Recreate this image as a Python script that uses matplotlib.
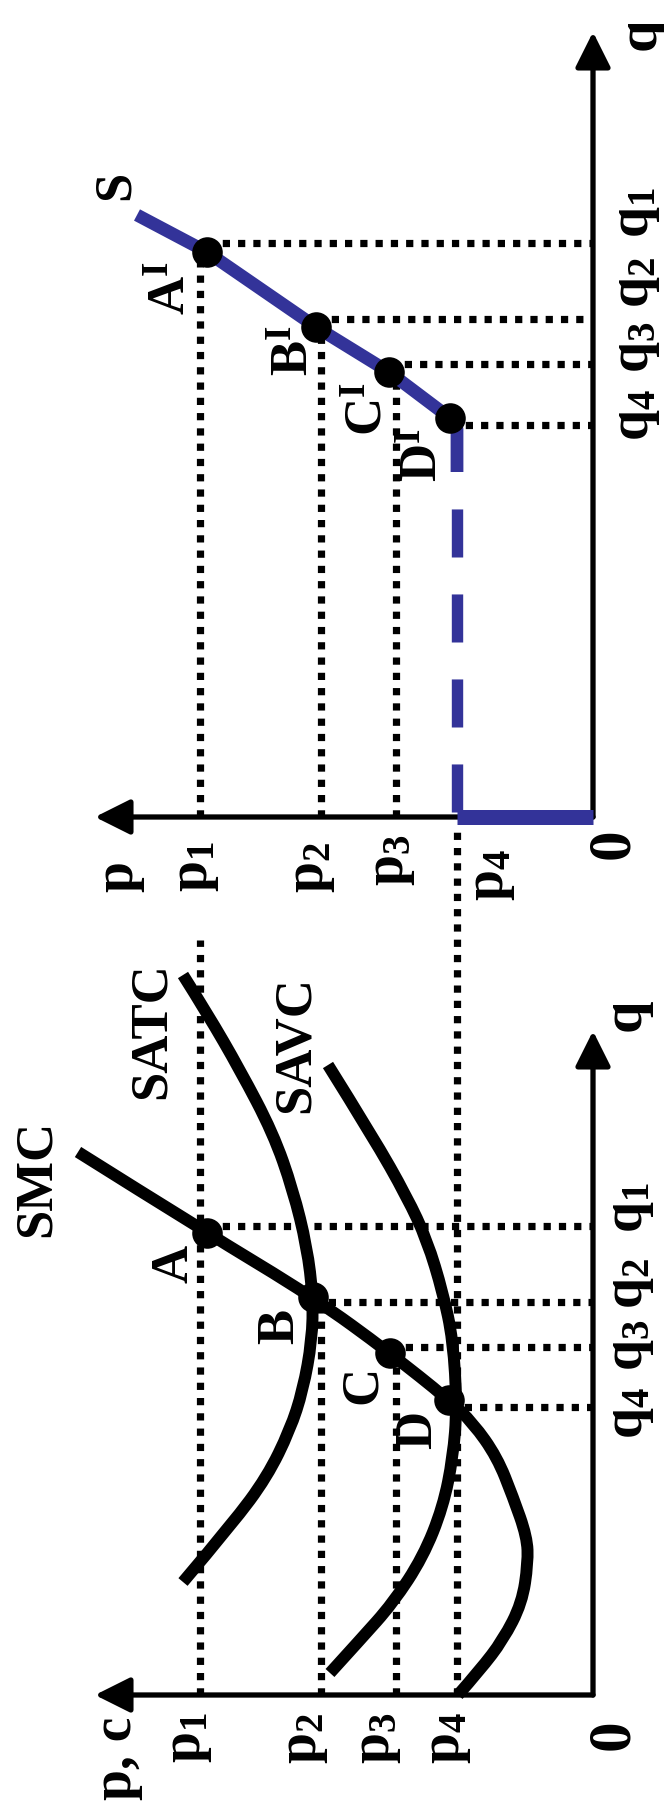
import matplotlib
matplotlib.use("Agg")
import matplotlib.pyplot as plt
from matplotlib.path import Path
from matplotlib.patches import PathPatch

plt.rcParams['font.family'] = ['Liberation Serif', 'DejaVu Serif']
plt.rcParams['font.weight'] = 'bold'
plt.rcParams['mathtext.fontset'] = 'custom'
plt.rcParams['mathtext.rm'] = 'Liberation Serif:bold'
plt.rcParams['mathtext.it'] = 'Liberation Serif:bold'
plt.rcParams['mathtext.bf'] = 'Liberation Serif:bold'
plt.rcParams['lines.scale_dashes'] = False

# price levels p1..p4 (shared by both panels)
p_levels = [39.3, 27.2, 19.7, 13.6]
# quantity levels q1..q4, cost panel and supply panel
q_cost = [46.9, 39.3, 34.8, 28.8]
q_supply = [57.4, 49.8, 45.3, 39.2]
p_axis_len = 49.8
q_axis_cost = 66.4
q_axis_supply = 78.5

# points A..D on SMC, A'..D' on S
pts_cost_p = [38.6, 28.0, 20.3, 14.4]
pts_cost_q = [46.2, 39.8, 34.2, 29.5]
pts_sup_p = [38.6, 27.7, 20.4, 14.3]
pts_sup_q = [56.5, 49.0, 44.5, 39.9]

# cost curves (p, q)
smc_p = [51.5, 38.6, 28.0, 20.3, 14.4, 12.0, 9.6, 8.0, 6.6, 6.5, 7.1, 9.0, 11.3, 13.5]
smc_q = [54.3, 46.2, 39.8, 34.2, 29.5, 27.2, 23.8, 19.8, 15.8, 13.2, 9.2, 5.5, 2.5, 0.0]
satc_p = [41.0, 38.6, 35.3, 32.0, 30.0, 28.6, 28.0, 28.1, 29.0, 30.3, 32.6, 36.0, 41.0]
satc_q = [72.0, 68.2, 62.5, 56.2, 50.5, 44.8, 39.8, 35.5, 30.5, 26.5, 21.8, 17.2, 11.3]
savc_p = [26.5, 22.0, 18.6, 16.6, 15.0, 14.0, 13.6, 14.0, 15.0, 17.0, 20.0, 23.3, 26.3]
savc_q = [63.0, 55.8, 49.8, 45.5, 40.2, 35.5, 28.8, 23.8, 18.8, 13.8, 9.2, 5.5, 2.2]

# supply curve S
s_p = [45.6, 38.6, 27.7, 20.4, 14.3, 13.6, 13.6]
s_q = [60.2, 56.5, 49.0, 44.5, 39.9, 38.8, 34.5]

p1_top_cost = 75.5
p4_top_cost = 87.0

blue = '#333399'
dot_kw = dict(color='k', lw=5.2, dashes=(5.2, 5.8), solid_capstyle='butt',
              dash_capstyle='butt', zorder=1)


def smooth(ps, qs):
    pts = list(zip(ps, qs))
    verts = [pts[0]]
    codes = [Path.MOVETO]
    for i in range(1, len(pts) - 1):
        a, b = pts[i], pts[i + 1]
        end = b if i == len(pts) - 2 else ((a[0] + b[0]) / 2, (a[1] + b[1]) / 2)
        verts += [a, end]
        codes += [Path.CURVE3, Path.CURVE3]
    return Path(verts, codes)


def axes_arrows(ax, q_len):
    arr = dict(arrowstyle='-|>,head_length=0.4,head_width=0.2', mutation_scale=54,
               lw=3.8, color='k', shrinkA=0, shrinkB=0)
    ax.annotate('', xy=(p_axis_len, 0), xytext=(0, 0), arrowprops=arr, zorder=2)
    ax.annotate('', xy=(0, q_len), xytext=(0, 0), arrowprops=arr, zorder=2)


fig = plt.figure(figsize=(6.64, 18.14), dpi=100)
ax_c = fig.add_axes([0, 0, 1, 1])
ax_s = fig.add_axes([0, 0, 1, 1])
for ax in (ax_c, ax_s):
    ax.set_axis_off()
    ax.patch.set_visible(False)
    ax.set_xlim(59.3, -7.1)
ax_c.set_ylim(-11.9, 169.5)
ax_s.set_ylim(-99.7, 81.7)

# ---- cost panel (bottom) ----
axes_arrows(ax_c, q_axis_cost)
ax_c.plot([p_levels[0], p_levels[0]], [0, p1_top_cost], **dot_kw)
ax_c.plot([p_levels[1], p_levels[1]], [0, pts_cost_q[1]], **dot_kw)
ax_c.plot([p_levels[2], p_levels[2]], [0, pts_cost_q[2]], **dot_kw)
ax_c.plot([p_levels[3], p_levels[3]], [0, p4_top_cost], **dot_kw)
for pp, qq in zip(pts_cost_p, q_cost):
    ax_c.plot([pp, 0], [qq, qq], **dot_kw)

for cp, cq in [(smc_p, smc_q), (satc_p, satc_q), (savc_p, savc_q)]:
    ax_c.add_patch(PathPatch(smooth(cp, cq), fill=False, lw=8.6, ec='k',
                             capstyle='butt', joinstyle='round', zorder=3))
ax_c.plot(pts_cost_p, pts_cost_q, 'o', color='k', ms=22, mew=0, zorder=4)

# ---- supply panel (top) ----
axes_arrows(ax_s, q_axis_supply)
for i in range(3):
    ax_s.plot([p_levels[i], p_levels[i]], [0, pts_sup_q[i]], **dot_kw)
for pp, qq in zip(pts_sup_p, q_supply):
    ax_s.plot([pp, 0], [qq, qq], **dot_kw)

ax_s.plot(s_p, s_q, color=blue, lw=9.2, solid_capstyle='butt',
          solid_joinstyle='round', zorder=3)
ax_s.plot([p_levels[3], p_levels[3]], [s_q[-1], -0.7], color=blue, lw=8.2,
          linestyle=(34.6, (34.6, 26.6)), dash_capstyle='butt', zorder=3)
ax_s.plot([p_levels[3], 0], [0, 0], color=blue, lw=10.8,
          solid_capstyle='butt', zorder=3)
ax_s.plot(pts_sup_p, pts_sup_q, 'o', color='k', ms=22, mew=0, zorder=4)

# ---- labels ----
txt = dict(rotation=90, ha='center', va='center', fontweight='bold')

cost_labels = ['SMC', 'SATC', 'SAVC', 'A', 'B', 'C', 'D']
cost_label_pos = [(55.6, 51.7), (44.1, 66.4), (29.7, 65.0), (41.8, 43.1),
                  (31.3, 36.9), (23.0, 31.0), (17.5, 26.5)]
for s, (x, y) in zip(cost_labels, cost_label_pos):
    ax_c.text(x, y, s, fontsize=38, **txt)

sup_labels = ['S', r'A$^I$', r'B$^I$', r'C$^I$', r'D$^I$']
sup_label_pos = [(47.7, 63.2), (42.0, 52.9), (29.7, 46.6), (22.4, 40.8), (16.8, 36.2)]
for s, (x, y) in zip(sup_labels, sup_label_pos):
    ax_s.text(x, y, s, fontsize=38, **txt)

p_names = [r'p$_1$', r'p$_2$', r'p$_3$', r'p$_4$']
q_names = [r'q$_1$', r'q$_2$', r'q$_3$', r'q$_4$']

cost_p_lab = [(40.5, -4.3), (28.9, -4.3), (21.6, -4.3), (14.6, -4.3)]
cost_q_lab = [(-3.7, 48.7), (-3.7, 41.2), (-3.7, 35.0), (-3.7, 28.2)]
sup_p_lab = [(39.8, -5.0), (28.2, -5.0), (20.2, -4.3), (10.2, -5.8)]
sup_q_lab = [(-4.3, 60.4), (-4.3, 53.5), (-4.3, 47.0), (-4.3, 40.2)]

for ax, plab, qlab in [(ax_c, cost_p_lab, cost_q_lab), (ax_s, sup_p_lab, sup_q_lab)]:
    for s, (x, y) in zip(p_names, plab):
        ax.text(x, y, s, fontsize=40, **txt)
    for s, (x, y) in zip(q_names, qlab):
        ax.text(x, y, s, fontsize=40, **txt)

ax_c.text(47.6, -6.3, 'p, c', fontsize=40, **txt)
ax_c.text(-2.0, -4.0, '0', fontsize=44, **txt)
ax_c.text(-3.3, 68.0, 'q', fontsize=42, **txt)
ax_s.text(47.5, -5.9, 'p', fontsize=40, **txt)
ax_s.text(-2.0, -2.7, '0', fontsize=44, **txt)
ax_s.text(-4.8, 78.3, 'q', fontsize=42, **txt)

fig.savefig('out.png', dpi=100)
